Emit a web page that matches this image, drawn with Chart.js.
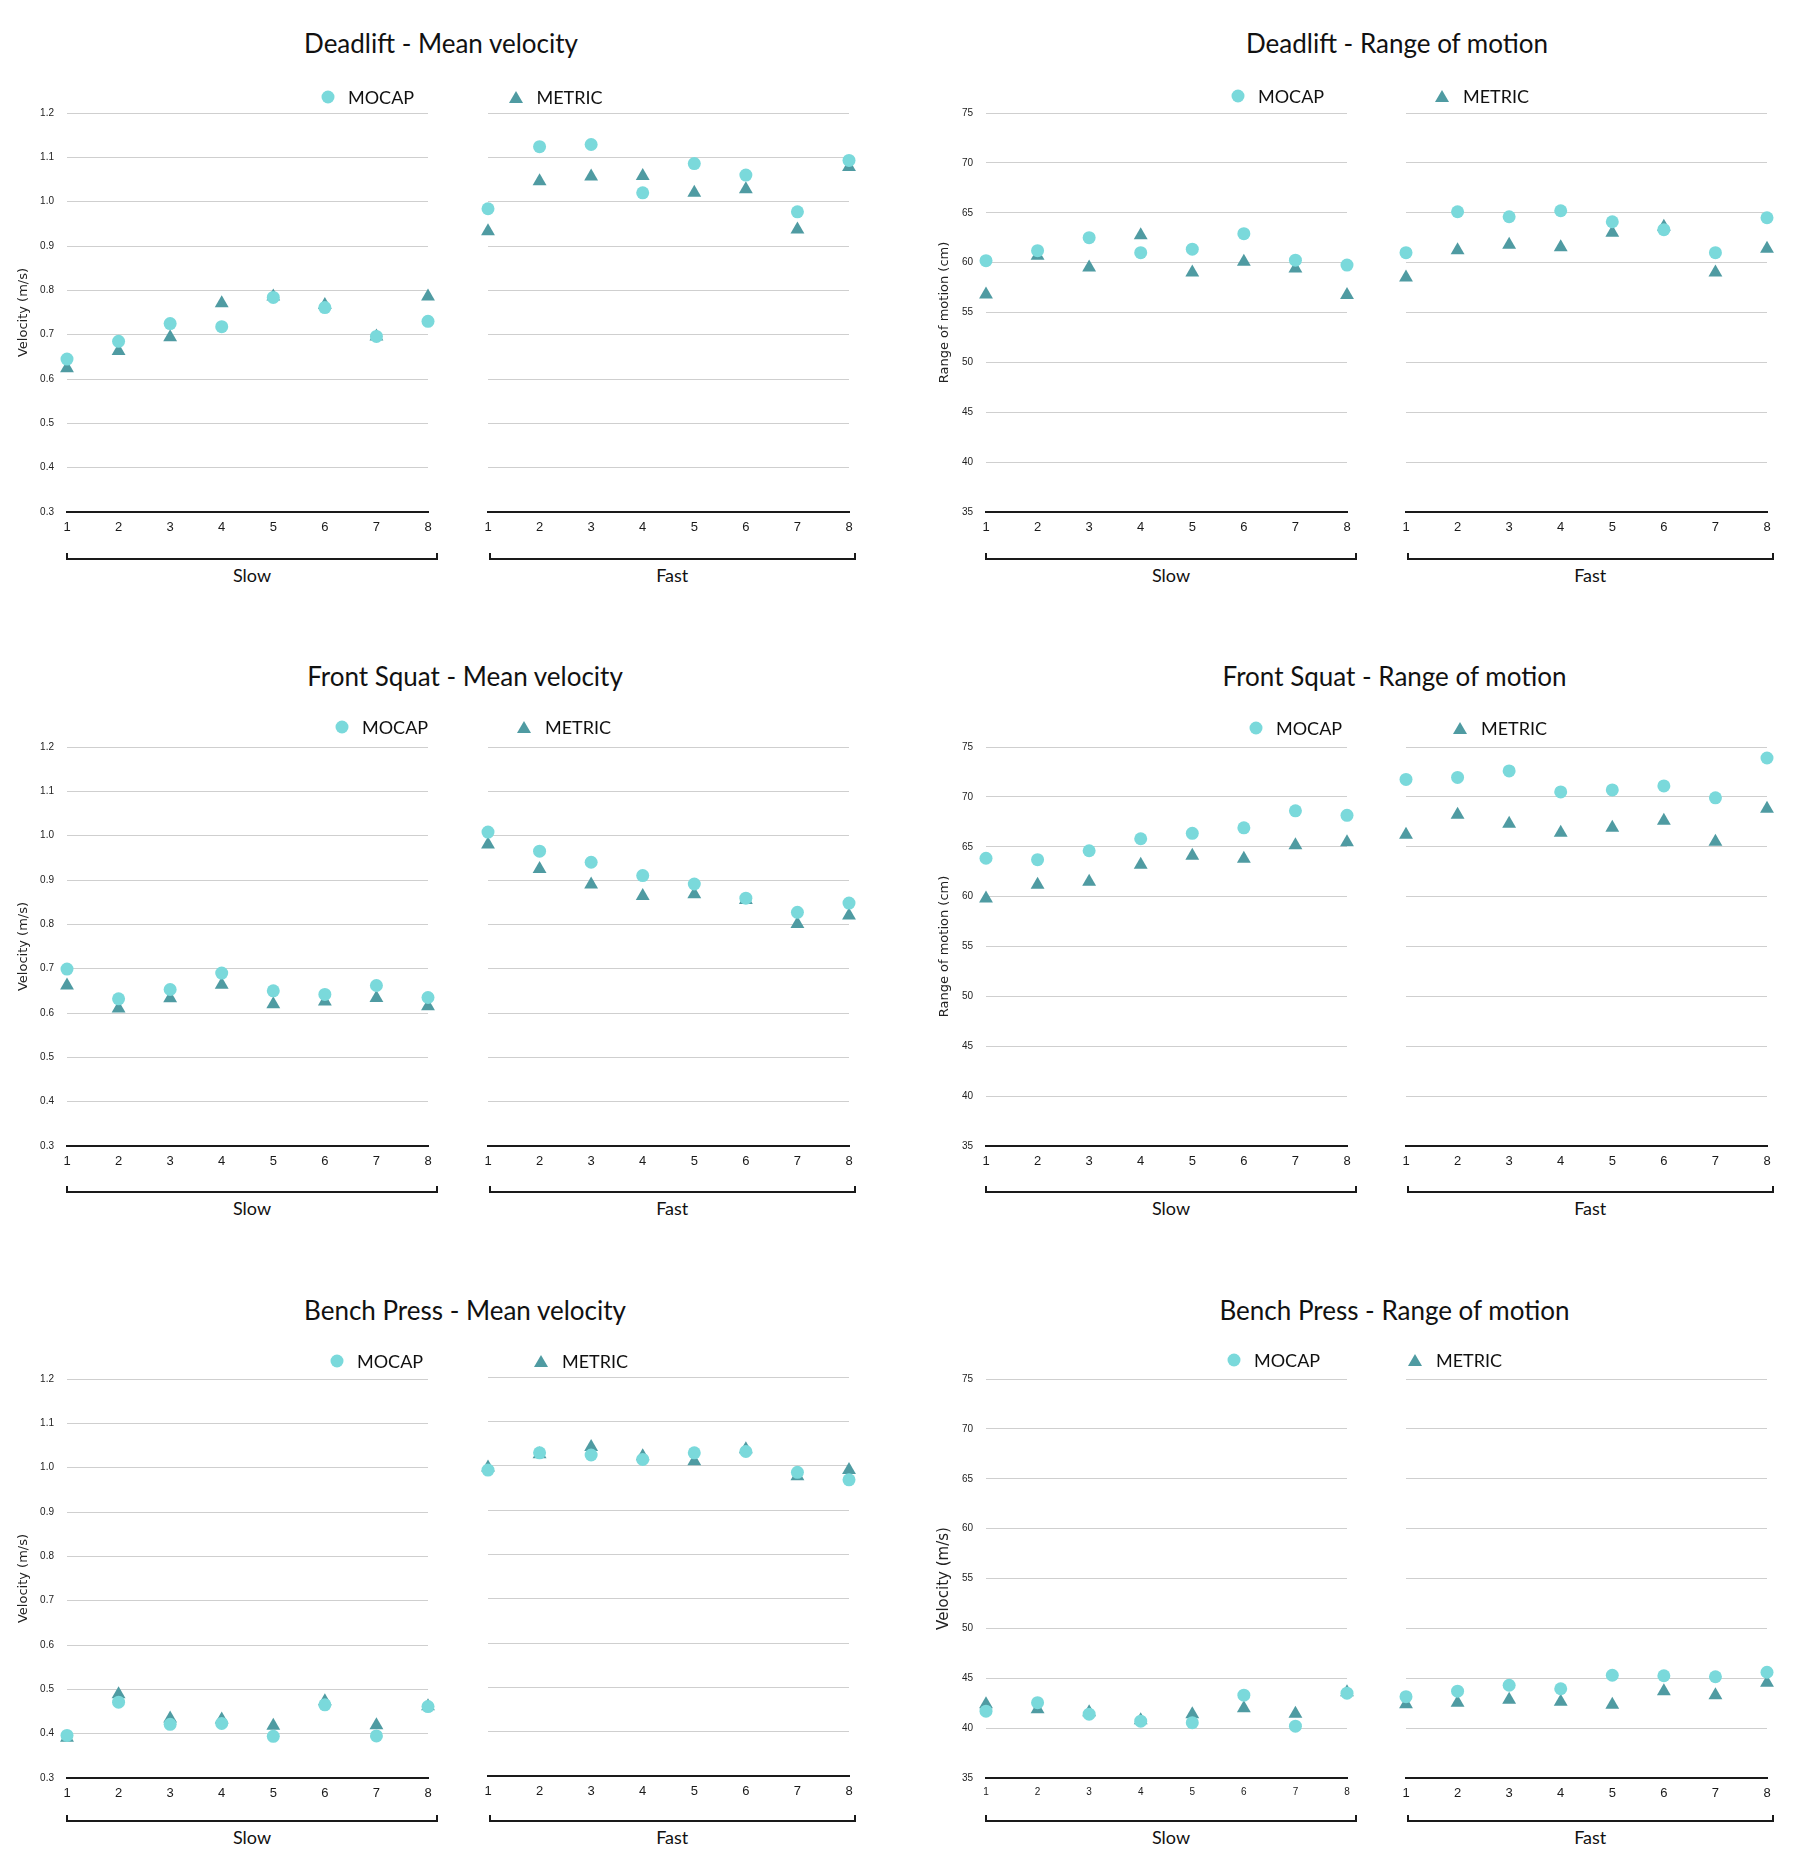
<!DOCTYPE html>
<html>
<head>
<meta charset="utf-8">
<script src="https://cdn.jsdelivr.net/npm/chart.js@4.4.1/dist/chart.umd.min.js"></script>
<style>
  html, body { margin: 0; padding: 0; background: #fff; }
  #page { position: relative; width: 1800px; height: 1850px; overflow: hidden; }
  #page canvas { position: absolute; }
  .txt { position: absolute; white-space: nowrap; font-family: Lato, "Open Sans", sans-serif; color: #111; }
  .title { font-size: 26px; transform: translate(-50%, -50%); }
  .group { font-size: 18px; transform: translate(-50%, -50%); }
  .leg { font-size: 18px; transform: translateY(-50%); }
  .dot { position: absolute; width: 13px; height: 13px; border-radius: 50%; transform: translate(-50%, -50%); }
  .tri { position: absolute; width: 0; height: 0; border-left: 7px solid transparent; border-right: 7px solid transparent; transform: translate(-50%, -50%); }
  .bracket { position: absolute; height: 7px; border: 2px solid #1a1a1a; border-top: none; box-sizing: border-box; }
</style>
</head>
<body>
<div id="page"></div>
<script>
// repetition numbers on the x axis
const reps = [1, 2, 3, 4, 5, 6, 7, 8];

// Deadlift - mean velocity (m/s)
const dlMvSlowMocap  = [0.645, 0.685, 0.725, 0.718, 0.784, 0.761, 0.696, 0.730];
const dlMvSlowMetric = [0.624, 0.663, 0.694, 0.771, 0.786, 0.767, 0.696, 0.786];
const dlMvFastMocap  = [0.984, 1.124, 1.129, 1.020, 1.086, 1.060, 0.977, 1.093];
const dlMvFastMetric = [0.933, 1.046, 1.057, 1.058, 1.020, 1.028, 0.937, 1.078];

// Deadlift - range of motion (cm)
const dlRomSlowMocap  = [60.2, 61.2, 62.5, 61.0, 61.35, 62.9, 60.25, 59.75];
const dlRomSlowMetric = [56.8, 60.7, 59.5, 62.75, 59.0, 60.1, 59.4, 56.75];
const dlRomFastMocap  = [61.0, 65.1, 64.6, 65.2, 64.1, 63.3, 61.0, 64.5];
const dlRomFastMetric = [58.5, 61.25, 61.8, 61.55, 63.0, 63.6, 59.0, 61.4];

// Front squat - mean velocity (m/s)
const fsMvSlowMocap  = [0.699, 0.632, 0.653, 0.690, 0.650, 0.642, 0.662, 0.635];
const fsMvSlowMetric = [0.662, 0.610, 0.633, 0.664, 0.620, 0.626, 0.634, 0.615];
const fsMvFastMocap  = [1.008, 0.965, 0.940, 0.910, 0.891, 0.859, 0.827, 0.848];
const fsMvFastMetric = [0.980, 0.925, 0.890, 0.864, 0.868, 0.855, 0.801, 0.820];

// Front squat - range of motion (cm)
const fsRomSlowMocap  = [63.85, 63.7, 64.6, 65.8, 66.35, 66.9, 68.6, 68.15];
const fsRomSlowMetric = [59.8, 61.2, 61.5, 63.2, 64.1, 63.8, 65.15, 65.45];
const fsRomFastMocap  = [71.75, 71.95, 72.6, 70.5, 70.7, 71.1, 69.9, 73.9];
const fsRomFastMetric = [66.2, 68.2, 67.3, 66.4, 66.9, 67.6, 65.5, 68.8];

// Bench press - mean velocity (m/s)
const bpMvSlowMocap  = [0.396, 0.471, 0.421, 0.423, 0.394, 0.465, 0.395, 0.461];
const bpMvSlowMetric = [0.391, 0.489, 0.434, 0.432, 0.418, 0.473, 0.419, 0.462];
const bpMvFastMocap  = [0.990, 1.029, 1.024, 1.014, 1.029, 1.032, 0.985, 0.968];
const bpMvFastMetric = [0.996, 1.026, 1.042, 1.021, 1.010, 1.037, 0.976, 0.990];

// Bench press - range of motion (cm)
const bpRomSlowMocap  = [41.7, 42.55, 41.4, 40.7, 40.55, 43.3, 40.2, 43.5];
const bpRomSlowMetric = [42.4, 41.9, 41.6, 40.8, 41.4, 42.0, 41.45, 43.6];
const bpRomFastMocap  = [43.15, 43.7, 44.3, 43.95, 45.3, 45.25, 45.15, 45.6];
const bpRomFastMetric = [42.4, 42.55, 42.85, 42.65, 42.35, 43.7, 43.3, 44.55];

const seriesNames = ['MOCAP', 'METRIC'];
const groupNames = ['Slow', 'Fast'];

const MOCAP_COLOR = '#7ad9db';
const METRIC_COLOR = '#4f9ba2';

Chart.defaults.font.family = '"Liberation Sans", Arial, sans-serif';
Chart.defaults.color = '#222';

// layout of the two columns and three rows
const COLS = [
  { x0: 0,   slowL: 67,  slowR: 428,  fastL: 488,  fastR: 849 },
  { x0: 900, slowL: 986, slowR: 1347, fastL: 1406, fastR: 1767 }
];
const ROWS = [0, 634, 1266];
const BRACKET_DY = [0, -1, -4];
const Y_TOP = 113, Y_BOT = 512;
// top padding has to be bigger than the y tick label overhang (half label + tick padding)
const PAD_T = 22, PAD_R = 14, PAD_L = 14, X_H = 34;

const mv = { min: 0.3, max: 1.2, step: 0.1, fmt: v => v.toFixed(1) };
const rom = { min: 35, max: 75, step: 5, fmt: v => String(v) };

const panels = [
  { title: 'Deadlift - Mean velocity', col: 0, row: 0, axis: mv, yTitle: 'Velocity (m/s)', ySize: 13, yOff: 16,
    data: [dlMvSlowMocap, dlMvSlowMetric, dlMvFastMocap, dlMvFastMetric],
    titleX: 441, titleY: 42.5, legY: 96.7, dotX: 328, triX: 515.5 },
  { title: 'Deadlift - Range of motion', col: 1, row: 0, axis: rom, yTitle: 'Range of motion (cm)', ySize: 13, yOff: 37,
    data: [dlRomSlowMocap, dlRomSlowMetric, dlRomFastMocap, dlRomFastMetric],
    titleX: 1397, titleY: 42.5, legY: 95.6, dotX: 1238, triX: 1442 },
  { title: 'Front Squat - Mean velocity', col: 0, row: 1, axis: mv, yTitle: 'Velocity (m/s)', ySize: 13, yOff: 16,
    data: [fsMvSlowMocap, fsMvSlowMetric, fsMvFastMocap, fsMvFastMetric],
    titleX: 465, titleY: 676, legY: 727, dotX: 342, triX: 524 },
  { title: 'Front Squat - Range of motion', col: 1, row: 1, axis: rom, yTitle: 'Range of motion (cm)', ySize: 13, yOff: 37,
    data: [fsRomSlowMocap, fsRomSlowMetric, fsRomFastMocap, fsRomFastMetric],
    titleX: 1394.5, titleY: 676, legY: 728, dotX: 1256, triX: 1460 },
  { title: 'Bench Press - Mean velocity', col: 0, row: 2, axis: mv, yTitle: 'Velocity (m/s)', ySize: 13, yOff: 16, fastDy: -2,
    data: [bpMvSlowMocap, bpMvSlowMetric, bpMvFastMocap, bpMvFastMetric],
    titleX: 465, titleY: 1310, legY: 1361, dotX: 337, triX: 541 },
  { title: 'Bench Press - Range of motion', col: 1, row: 2, axis: rom, yTitle: 'Velocity (m/s)', ySize: 15, yOff: 35, slowTick: 10,
    data: [bpRomSlowMocap, bpRomSlowMetric, bpRomFastMocap, bpRomFastMetric],
    titleX: 1394.5, titleY: 1310, legY: 1360, dotX: 1234, triX: 1415 }
];

const page = document.getElementById('page');

function addEl(cls, text, left, top) {
  const d = document.createElement('div');
  d.className = cls;
  if (text) d.textContent = text;
  d.style.left = left + 'px';
  d.style.top = top + 'px';
  page.appendChild(d);
  return d;
}

function addCanvas(left, top, w, h) {
  const c = document.createElement('canvas');
  c.width = w; c.height = h;
  c.style.left = left + 'px'; c.style.top = top + 'px';
  c.style.width = w + 'px'; c.style.height = h + 'px';
  page.appendChild(c);
  return c;
}

function points(vals) {
  return reps.map((r, i) => ({ x: r, y: vals[i] }));
}

function drawHalf(canvas, mocap, metric, p, slow, yWidth) {
  const ax = p.axis;
  return new Chart(canvas, {
    type: 'scatter',
    data: {
      datasets: [
        { label: seriesNames[0], data: points(mocap), pointStyle: 'circle', pointRadius: 6.5,
          backgroundColor: MOCAP_COLOR, borderWidth: 0, clip: false },
        { label: seriesNames[1], data: points(metric), pointStyle: 'triangle', pointRadius: 8,
          backgroundColor: METRIC_COLOR, borderWidth: 0, clip: false }
      ]
    },
    options: {
      responsive: false,
      animation: false,
      events: [],
      layout: { padding: { left: 0, right: PAD_R, top: PAD_T, bottom: 0 } },
      plugins: { legend: { display: false }, tooltip: { enabled: false } },
      scales: {
        x: {
          type: 'linear', min: 1, max: 8,
          grid: { display: false, drawTicks: false },
          border: { display: true, color: '#1a1a1a', width: 2 },
          ticks: { stepSize: 1, autoSkip: false, maxRotation: 0, padding: 8,
                   font: { size: slow && p.slowTick ? p.slowTick : 13 }, color: '#1a1a1a' },
          afterFit: s => { s.height = X_H; }
        },
        y: {
          type: 'linear', min: ax.min, max: ax.max,
          grid: { color: '#cfcfcf', lineWidth: 1, drawTicks: false },
          border: { display: false },
          ticks: { display: slow, stepSize: ax.step, padding: 13, font: { size: 10 }, color: '#222',
                   callback: v => ax.fmt(v) },
          title: { display: slow, text: p.yTitle, color: '#222',
                   font: { family: '"DejaVu Sans", Verdana, sans-serif', size: p.ySize },
                   padding: { top: p.yOff, bottom: 0 } },
          afterFit: s => { s.width = yWidth; }
        }
      }
    }
  });
}

panels.forEach(p => {
  const c = COLS[p.col];
  const off = ROWS[p.row];
  const h = PAD_T + (Y_BOT - Y_TOP) + X_H;
  const top = off + Y_TOP - PAD_T;

  // slow half carries the value axis
  const slowCanvas = addCanvas(c.x0, top, c.slowR + PAD_R - c.x0, h);
  drawHalf(slowCanvas, p.data[0], p.data[1], p, true, c.slowL - c.x0);

  const fastCanvas = addCanvas(c.fastL - PAD_L, top + (p.fastDy || 0), PAD_L + (c.fastR - c.fastL) + PAD_R, h);
  drawHalf(fastCanvas, p.data[2], p.data[3], p, false, PAD_L);

  // title and legend
  addEl('txt title', p.title, p.titleX, p.titleY);
  const dot = addEl('dot', '', p.dotX, p.legY);
  dot.style.background = MOCAP_COLOR;
  addEl('txt leg', seriesNames[0], p.dotX + 20, p.legY);
  const tri = addEl('tri', '', p.triX, p.legY);
  tri.style.borderBottom = '12px solid ' + METRIC_COLOR;
  addEl('txt leg', seriesNames[1], p.triX + 21, p.legY);

  // group brackets under the two halves
  const bOff = off + BRACKET_DY[p.row];
  const spans = [[c.slowL, c.slowR + 9], [c.fastL + 1.5, c.fastR + 6]];
  spans.forEach((s, i) => {
    const b = addEl('bracket', '', s[0] - 1, bOff + 559 - 6);
    b.style.width = (s[1] - s[0] + 2) + 'px';
    addEl('txt group', groupNames[i], (s[0] + s[1]) / 2, bOff + 575);
  });
});
</script>
</body>
</html>
